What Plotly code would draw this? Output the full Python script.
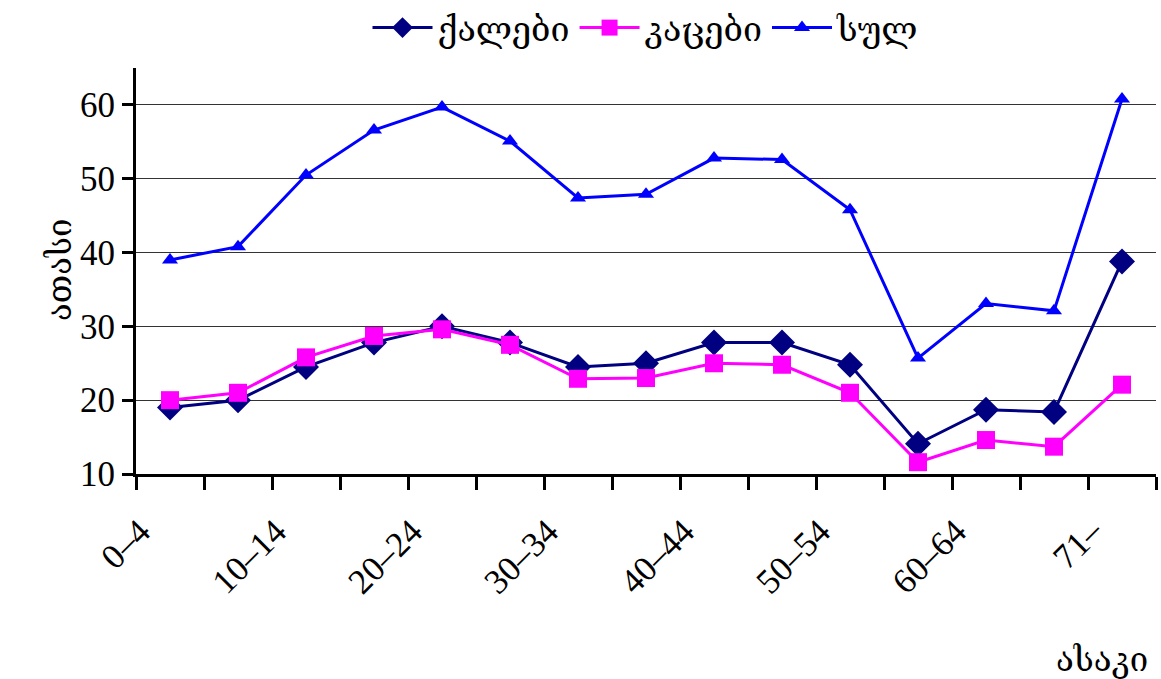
import plotly.graph_objects as go

# Age groups (every other one is labelled on the axis)
age_groups = ["0–4", "5–9", "10–14", "15–19", "20–24", "25–29", "30–34", "35–39",
              "40–44", "45–49", "50–54", "55–59", "60–64", "65–70", "71–"]
tick_labels = ["0–4", "", "10–14", "", "20–24", "", "30–34", "",
               "40–44", "", "50–54", "", "60–64", "", "71–"]

# Values in thousands
women = [19.0, 20.0, 24.5, 27.8, 30.0, 27.8, 24.5, 25.0, 27.8, 27.8, 24.8, 14.1, 18.7, 18.4, 38.8]
men = [20.0, 21.0, 25.8, 28.7, 29.6, 27.5, 22.9, 23.0, 25.0, 24.8, 21.0, 11.6, 14.6, 13.7, 22.1]
total = [39.0, 40.8, 50.5, 56.6, 59.7, 55.1, 47.4, 47.9, 52.8, 52.6, 45.8, 25.7, 33.1, 32.1, 60.8]

series_names = ["ქალები", "კაცები", "სულ"]

FONT = "Liberation Serif, Times New Roman, DejaVu Serif, DejaVu Sans, serif"

fig = go.Figure()
fig.add_trace(go.Scatter(
    x=age_groups, y=women, name=series_names[0], mode="lines+markers",
    line=dict(color="#000080", width=3),
    marker=dict(symbol="diamond", size=20, color="#000080"),
))
fig.add_trace(go.Scatter(
    x=age_groups, y=men, name=series_names[1], mode="lines+markers",
    line=dict(color="#FF00FF", width=3),
    marker=dict(symbol="square", size=18, color="#FF00FF"),
))
fig.add_trace(go.Scatter(
    x=age_groups, y=total, name=series_names[2], mode="lines+markers",
    line=dict(color="#0000FF", width=3),
    marker=dict(symbol="triangle-up", size=14, color="#0000FF"),
))

plot_w = 1161 - 136 - 5
plot_h = 679 - 68 - 205

fig.update_layout(
    width=1161, height=679,
    margin=dict(l=136, r=5, t=68, b=205),
    paper_bgcolor="white", plot_bgcolor="white",
    font=dict(family=FONT, size=34, color="black"),
    showlegend=True,
    legend=dict(orientation="h", x=0.5, xanchor="center",
                y=1 - 28 / 679, yanchor="middle", yref="container",
                font=dict(size=34), itemwidth=60, bgcolor="rgba(0,0,0,0)"),
    xaxis=dict(
        type="category", categoryorder="array", categoryarray=age_groups,
        tickmode="array", tickvals=age_groups, ticktext=tick_labels,
        tickson="boundaries", ticks="outside", ticklen=13, tickwidth=3, tickcolor="black",
        tickangle=-45, ticklabelstandoff=20, ticklabelshift=-30,
        showline=True, linecolor="black", linewidth=3,
        showgrid=False, zeroline=False, range=[-0.5, 14.5],
        tickfont=dict(family=FONT, size=35),
    ),
    yaxis=dict(
        range=[10, 65], tickmode="array", tickvals=[10, 20, 30, 40, 50, 60],
        ticks="outside", ticklen=11, tickwidth=3, tickcolor="black",
        showline=True, linecolor="black", linewidth=3,
        showgrid=True, gridcolor="#333333", gridwidth=1, zeroline=False,
        tickfont=dict(family=FONT, size=35),
    ),
    annotations=[
        dict(text="ათასი", x=(40 - 136) / plot_w, y=(474 - 270) / plot_h,
             xref="paper", yref="paper", showarrow=False,
             textangle=-90, font=dict(family=FONT, size=33)),
        dict(text="ასაკი", x=(1150 - 136) / plot_w, y=(474 - 660) / plot_h,
             xref="paper", yref="paper", showarrow=False,
             xanchor="right", yanchor="middle", font=dict(family=FONT, size=33)),
    ],
)

fig.write_html("out.html")
